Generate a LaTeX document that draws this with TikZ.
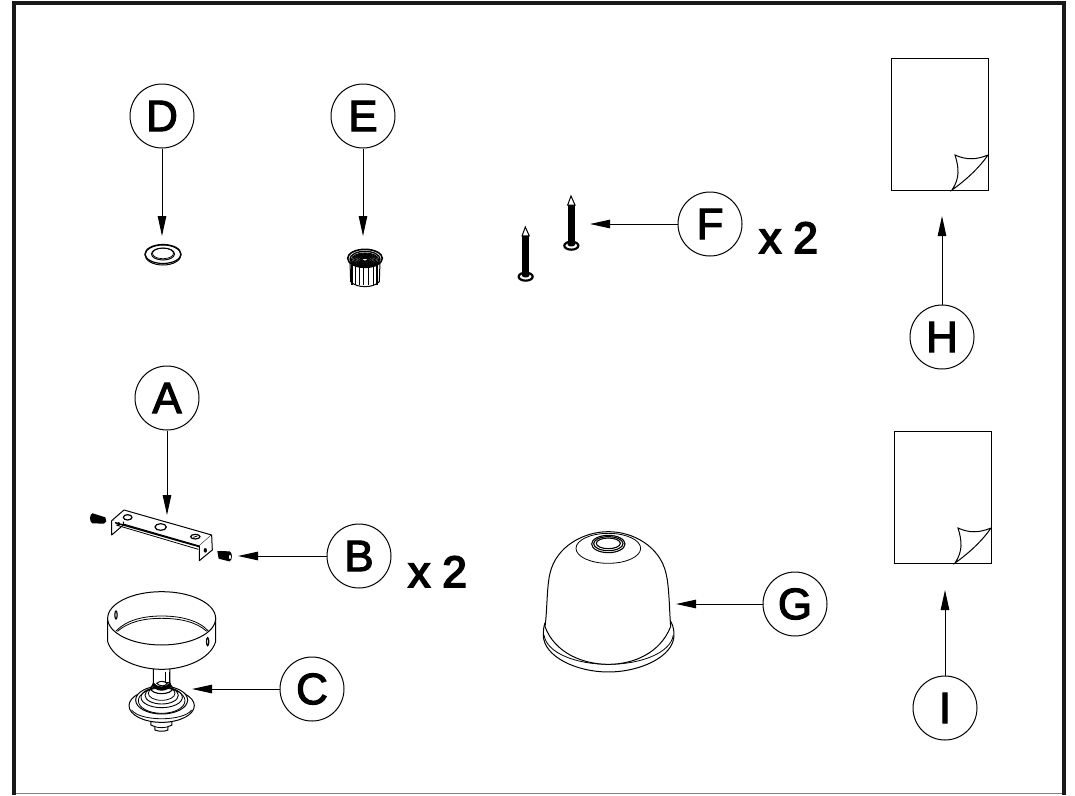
\documentclass[tikz,border=0pt]{standalone}
\usepackage{fontspec}
\newfontfamily\lblfont[FakeBold=2.6]{Liberation Sans}
\newfontfamily\multfont[FakeBold=4]{Liberation Sans}
\usetikzlibrary{arrows.meta}
\tikzset{
  lbl/.style={circle,draw,line width=1pt,minimum size=64pt,inner sep=0pt,font=\lblfont\fontsize{44}{44}\selectfont},
  arr/.style={line width=1pt,-{Triangle[length=20pt,width=8.5pt]}},
  mult/.style={anchor=base west,inner sep=0pt,font=\multfont\fontsize{44}{44}\selectfont},
  part/.style={line width=1pt,line join=round,fill=white},
  fine/.style={line width=.8pt,line join=round},
  sheet/.style={draw,line width=1pt,fill=white}
}
\begin{document}
\begin{tikzpicture}[x=1pt,y=-1pt]
\useasboundingbox (0,0) rectangle (1075,795);
\fill[white] (0,0) rectangle (1075,795);
% frame
\draw[line width=1pt,gray] (14,793.5) -- (1064,793.5);
\draw[line width=3.6pt,black!90] (14,795) -- (14,3) -- (1064,3) -- (1064,795);
% labels
\node[lbl] (D) at (162,116) {D};
\node[lbl] (E) at (363,116) {E};
\node[lbl] (F) at (710,224) {F};
\node[lbl] (H) at (942,337) {H};
\node[lbl] (A) at (167,398) {A};
\node[lbl] (B) at (359,556) {B};
\node[lbl] (C) at (312,689) {C};
\node[lbl] (G) at (795,604) {G};
\node[lbl] (I) at (945,708) {I};
\node[mult] (m1) at (759,253) {x 2};
\node[mult] (m2) at (408,587) {x 2};
% arrow ends
\coordinate (dt) at (162,236);
\coordinate (et) at (363,236);
\coordinate (ft) at (590,224);
\coordinate (ht) at (942,216);
\coordinate (at) at (167,515);
\coordinate (bt) at (238,556);
\coordinate (ct) at (192,689);
\coordinate (gt) at (676,604);
\coordinate (it) at (945,590);
\draw[arr] (D) -- (dt);
\draw[arr] (E) -- (et);
\draw[arr] (F) -- (ft);
\draw[arr] (H) -- (ht);
\draw[arr] (A) -- (at);
\draw[arr] (B) -- (bt);
\draw[arr] (C) -- (ct);
\draw[arr] (G) -- (gt);
\draw[arr] (I) -- (it);
% sheets
\foreach \sx/\sy in {891/58,894/431}{
\begin{scope}[shift={(\sx,\sy)}]
  \draw[sheet] (0,0) rectangle (97,132);
  \draw[line width=1pt] (97,97) .. controls (85,102) and (75,102) .. (64,97)
     .. controls (68,110) and (69,120) .. (61,132)
     .. controls (75,122) and (88,110) .. (97,97);
\end{scope}}
% washer D
\begin{scope}[shift={(163,254)}]
  \draw[line width=1pt] (0,1) ellipse (18 and 10);
  \draw[line width=1.2pt] (0,0) ellipse (18 and 9.5);
  \draw[line width=1pt] (0,0) ellipse (11.5 and 6);
  \draw[line width=.7pt] (0,-.6) ellipse (10.5 and 5.3);
\end{scope}
% insert E
\begin{scope}[shift={(320,230)},x=.3333pt,y=-.3333pt]
  \draw[part] (90,95) -- (92,155) .. controls (110,175) and (160,175) .. (178,155) -- (180,95) -- cycle;
  \foreach \qq/\ww in {96/7,106/3,118/5,131/4,146/5,160/3,172/6}
    \draw[line width=\ww*.33pt] (\qq,105) -- (\qq,165);
  \draw[part,line width=1.6pt] (135,85) ellipse (52 and 27);
  \draw[line width=1.3pt] (135,87) ellipse (45 and 23);
  \foreach \ra/\rb in {41/20,37/18,33/16,29/14,25/12,21/10,17/8,13/6,9/4}
    \draw[line width=1.05pt] (135,89) ellipse [x radius=\ra, y radius=\rb];
\end{scope}
% nails F
\foreach \nx/\ny in {0/0,-137/93}{
\begin{scope}[shift={(500,180)},x=.3333pt,y=-.3333pt,xshift=\nx*.3333pt,yshift=-\ny*.3333pt]
  \fill (203,75) rectangle (225,192);
  \draw[line width=1pt,fill=white] (203,75) -- (213,48) -- (225,75) -- cycle;
  \draw[line width=2.2pt,fill=white] (214,197) ellipse (21 and 12);
  \fill (203,185) -- (225,185) -- (225,195) .. controls (220,201) and (208,201) .. (203,195) -- cycle;
\end{scope}}
% bracket A
\begin{scope}[shift={(60,480)},x=.3333pt,y=-.3333pt]
  \draw[part] (155,122) -- (192,90) -- (455,165) -- (418,198) -- cycle;
  \draw[part] (155,122) -- (155,165) -- (190,135) -- (190,125);
  \draw[part] (418,198) -- (418,242) -- (457,210) -- (455,165);
  \draw[line width=1.4pt] (165,128) -- (418,200);
  \draw[fine] (168,135) -- (415,208);
  \draw[line width=1.2pt] (203,112) ellipse (13 and 8);
  \draw[line width=1.2pt] (302,141) ellipse (17 and 10);
  \draw[line width=1.2pt] (406,170) ellipse (14 and 7);
  \draw[fine] (400,172) -- (412,168);
  \fill (436,211) ellipse (5 and 7);
  \fill (176,132) ellipse (4 and 6);
  % screws
  \fill (98,115) ellipse (8 and 15);
  \fill (98,100) -- (136,112) -- (139,124) -- (132,131) -- (98,130) -- cycle;
  \fill (508,229) ellipse (8 and 15);
  \fill (472,213) -- (508,214) -- (508,244) -- (476,236) -- cycle;
  \fill[white] (510,231) ellipse (3 and 6);
\end{scope}
% hub C (bottom part)
\begin{scope}[shift={(110,640)},x=.3333pt,y=-.3333pt]
  \draw[part] (123,245) -- (123,255) -- (135,260) -- (135,270) .. controls (145,275) and (165,275) .. (174,270) -- (174,260) -- (186,255) -- (186,245) -- cycle;
  \draw[fine] (135,260) .. controls (145,264) and (165,264) .. (174,260);
  \draw[part] (155,197) ellipse (98 and 50);
  \draw[fine] (65,210) .. controls (90,245) and (220,245) .. (245,210);
  \draw[part] (155,180) ellipse (78 and 42);
  \draw[fine] (155,182) ellipse (70 and 38);
  \draw[line width=.9pt] (155,172) ellipse (62 and 31);
  \draw[line width=.9pt] (155,166) ellipse (50 and 26);
  \draw[fine] (155,160) ellipse (40 and 21);
  \draw[line width=1.1pt] (155,145) ellipse (33 and 16);
  \draw[line width=1pt] (155,135) ellipse (27 and 11);
  \draw[part] (130,85) -- (130,130) .. controls (140,145) and (170,145) .. (180,130) -- (180,85) -- cycle;
  \fill (130,125) .. controls (140,146) and (170,146) .. (180,125) -- (184,137) .. controls (170,157) and (140,157) .. (126,137) -- cycle;
  \draw[part] (140,130) .. controls (150,140) and (165,140) .. (172,130) .. controls (160,122) and (150,122) .. (140,130) -- cycle;
  \draw[fine] (165,95) -- (165,128) -- (178,128) -- (178,95);
\end{scope}
% bowl C
\begin{scope}[shift={(90,560)},x=.3333pt,y=-.3333pt]
  \draw[part] (53,175) -- (53,245) .. controls (70,300) and (150,328) .. (215,328) .. controls (280,328) and (360,300) .. (377,245) -- (377,175) -- cycle;
  \draw[part] (215,175) ellipse (162 and 80);
  \draw[fine] (78,213) .. controls (110,180) and (160,168) .. (215,168) .. controls (270,168) and (325,180) .. (355,213);
  \draw[fine] (82,214) .. controls (115,186) and (160,175) .. (215,175) .. controls (270,175) and (320,186) .. (350,214);
  \draw[line width=1.2pt] (78,165) ellipse (3.5 and 12);
  \draw[line width=1.2pt] (353,245) ellipse (3.5 and 12);
\end{scope}
% dome G
\begin{scope}[shift={(520,520)},x=.3333pt,y=-.3333pt]
  \draw[part] (70,345) .. controls (70,310) and (78,305) .. (80,300) -- (450,300) .. controls (455,310) and (462,320) .. (462,345) .. controls (462,410) and (360,456) .. (265,456) .. controls (170,456) and (70,410) .. (70,345) -- cycle;
  \draw[fine] (72,345) .. controls (80,400) and (170,433) .. (265,433) .. controls (360,433) and (452,400) .. (460,345);
  \draw[part] (75,320) .. controls (82,270) and (80,200) .. (90,160) .. controls (108,80) and (190,35) .. (265,35) .. controls (340,35) and (420,80) .. (438,160) .. controls (448,200) and (448,270) .. (452,320) .. controls (420,400) and (340,433) .. (265,433) .. controls (190,433) and (105,400) .. (75,320) -- cycle;
  \draw[fine] (265,85) ellipse (97 and 45);
  \draw[line width=1.1pt] (265,72) ellipse (50 and 26);
  \draw[line width=1.1pt] (265,71) ellipse (44 and 21);
  \draw[line width=1.1pt] (265,70) ellipse (36 and 16);
\end{scope}
\end{tikzpicture}
\end{document}
